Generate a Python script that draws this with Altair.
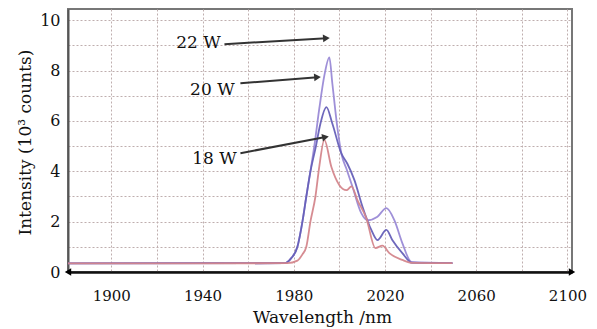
import altair as alt
import numpy as np
import pandas as pd

# ---- data ----
wl_22 = [1881, 1975.9, 1978.9, 1981.6, 1983.8, 1985.5, 1987.3, 1989.0, 1991.2, 1993.4, 1995.6,
         1996.9, 1999.1, 2000.9, 2003.1, 2005.7, 2009.6, 2012.3, 2016.7, 2020.6, 2024.1,
         2027.6, 2031.6, 2049.6]
int_22 = [0.34, 0.35, 0.55, 1.0, 2.0, 3.0, 4.0, 5.0, 6.5, 7.8, 8.53,
          7.5, 5.75, 4.7, 4.1, 3.4, 2.34, 2.06, 2.2, 2.54, 2.06,
          1.15, 0.4, 0.35]

wl_20 = [1881, 1975.9, 1978.9, 1981.6, 1983.8, 1985.5, 1987.3, 1989.5, 1991.7, 1994.3,
         1996.9, 2000.9, 2003.5, 2006.6, 2010.1, 2014.0, 2016.7, 2020.6, 2023.2, 2027.6,
         2032.0, 2049.6]
int_20 = [0.34, 0.35, 0.55, 1.0, 2.0, 3.0, 4.0, 4.9, 5.9, 6.55,
          5.9, 4.7, 4.3, 3.65, 2.6, 1.67, 1.27, 1.67, 1.27, 0.75,
          0.36, 0.35]

wl_18 = [1881, 1977.2, 1981.6, 1983.8, 1985.5, 1987.3, 1989.5, 1991.2, 1993.4, 1996.5,
         2000.0, 2003.1, 2005.3, 2007.9, 2011.8, 2015.8, 2018.9, 2021.9, 2027.6, 2032.0,
         2049.6]
int_18 = [0.34, 0.35, 0.45, 0.7, 1.0, 2.0, 3.0, 4.2, 5.25, 4.17,
          3.45, 3.25, 3.4, 2.86, 2.14, 0.95, 1.05, 0.75, 0.48, 0.36,
          0.35]

series_names = ["22 W", "20 W", "18 W"]
series_colors = ["#9a8ad6", "#6660b8", "#d4868c"]

# annotation: label position, arrow start, arrow end
ann_label_x = [1938.2, 1944.3, 1945.2]
ann_label_y = [9.09, 7.22, 4.48]
arrow_x1 = [1949.6, 1956.6, 1956.6]
arrow_y1 = [9.05, 7.50, 4.72]
arrow_x2 = [1994.3, 1990.4, 1993.9]
arrow_y2 = [9.29, 7.74, 5.36]

x_grid = list(range(1900, 2101, 20))
y_grid = list(range(0, 11, 1))

X_DOMAIN = [1881, 2102]
Y_DOMAIN = [0, 10.45]
W, H = 504, 263

FONT = "DejaVu Serif"
TXT = "#111"

# ---- tables ----
rows = []
for name, xs, ys in zip(series_names, [wl_22, wl_20, wl_18], [int_22, int_20, int_18]):
    for i, (a, b) in enumerate(zip(xs, ys)):
        rows.append({"x": a, "y": b, "series": name, "i": i})
df_lines = pd.DataFrame(rows)

kx = W / (X_DOMAIN[1] - X_DOMAIN[0])
ky = H / (Y_DOMAIN[1] - Y_DOMAIN[0])
angles = [(-np.degrees(np.arctan2((b2 - b1) * ky, (a2 - a1) * kx))) % 360
          for a1, b1, a2, b2 in zip(arrow_x1, arrow_y1, arrow_x2, arrow_y2)]

df_arrows = pd.DataFrame({"x": arrow_x1, "y": arrow_y1, "x2": arrow_x2, "y2": arrow_y2})
df_heads = pd.DataFrame({"x": arrow_x2, "y": arrow_y2, "ang": angles})
df_text = pd.DataFrame({"x": ann_label_x, "y": ann_label_y, "label": series_names})
df_axis_heads = pd.DataFrame({"x": X_DOMAIN, "y": [0, 0], "shape": ["triangle-left", "triangle-right"]})

x_axis = alt.Axis(
    values=x_grid, format="d",
    labelExpr="(datum.value - 1900) % 40 == 0 ? datum.label : ''",
    grid=True, gridColor="#bfaeae", gridDash=[2, 2], gridWidth=1,
    ticks=False, tickSize=0, labelPadding=23, labelBaseline="middle",
    labelFont=FONT, labelFontSize=15, labelColor=TXT,
    domain=True, domainColor="#111", domainWidth=2.5,
    title="Wavelength /nm", titleFont=FONT, titleFontSize=17, titleFontWeight="normal",
    titleColor=TXT, titleX=254, titleY=45, titleBaseline="middle",
)
y_axis = alt.Axis(
    values=y_grid,
    labelExpr="datum.value % 2 == 0 ? datum.label : ''",
    grid=True, gridColor="#bfaeae", gridDash=[2, 2], gridWidth=1,
    ticks=False, tickSize=0, labelPadding=8,
    labelFont=FONT, labelFontSize=16, labelColor=TXT,
    domain=True, domainColor="#555", domainWidth=2,
    title="Intensity (10³ counts)", titleFont=FONT, titleFontSize=17, titleFontWeight="normal",
    titleColor=TXT, titleX=-43, titleY=133, titleAngle=270, titleBaseline="middle",
)

def X(field="x"):
    return alt.X(f"{field}:Q", scale=alt.Scale(domain=X_DOMAIN, nice=False, zero=False), axis=x_axis)

def Y(field="y"):
    return alt.Y(f"{field}:Q", scale=alt.Scale(domain=Y_DOMAIN, nice=False, zero=False), axis=y_axis)

lines = alt.Chart(df_lines).mark_line(strokeWidth=1.8, opacity=0.95, interpolate="monotone").encode(
    x=X(), y=Y(),
    color=alt.Color("series:N", scale=alt.Scale(domain=series_names, range=series_colors), legend=None),
    order="i:Q",
)

arrows = alt.Chart(df_arrows).mark_rule(color="#333", strokeWidth=2).encode(
    x=X(), y=Y(), x2="x2:Q", y2="y2:Q"
)

heads = alt.Chart(df_heads).mark_point(shape="triangle-right", filled=True, size=60, color="#333", opacity=1).encode(
    x=X(), y=Y(), angle=alt.Angle("ang:Q", scale=None)
)

labels = alt.Chart(df_text).mark_text(font=FONT, fontSize=17, color=TXT).encode(
    x=X(), y=Y(), text="label:N"
)

axis_heads = alt.Chart(df_axis_heads).mark_point(filled=True, size=55, color="#000", opacity=1).encode(
    x=X(), y=Y(), shape=alt.Shape("shape:N", scale=None)
)

chart = alt.layer(lines, arrows, heads, labels, axis_heads).properties(
    width=W, height=H,
    autosize=alt.AutoSizeParams(type="none"),
    padding={"left": 60, "top": 1, "right": 17, "bottom": 57},
    background="white",
).configure_view(stroke="#777", strokeWidth=2)

chart.save("out.html", embed_options={"renderer": "svg", "actions": False})
